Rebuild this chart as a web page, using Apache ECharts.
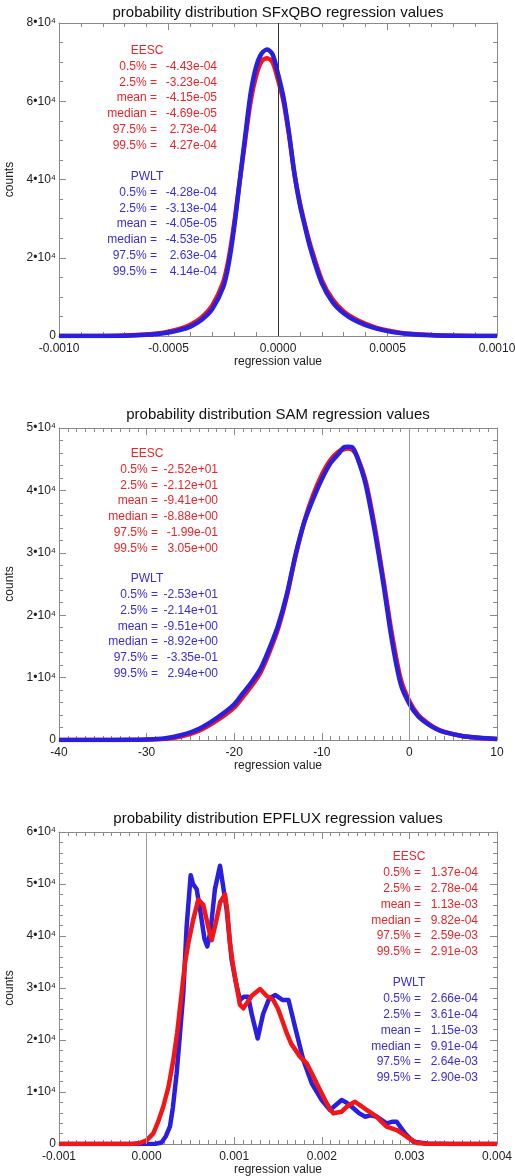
<!DOCTYPE html>
<html>
<head>
<meta charset="utf-8">
<script src="https://cdn.jsdelivr.net/npm/echarts@6/dist/echarts.min.js"></script>
<style>
	html,body{margin:0;padding:0;background:#fff;}
	#chart{width:515px;height:1176px;}
</style>
</head>
<body>
<div id="chart"></div>
<script>
// ---- SFxQBO panel ----
var sfxqboX = [-0.0010,-0.0009,-0.0008,-0.0007,-0.0006,-0.00055,-0.0005,-0.00045,-0.0004,-0.00035,-0.0003,-0.00025,-0.000225,-0.0002,-0.000175,-0.00015,-0.000125,-0.0001,-0.000075,-0.00005,-0.000025,0,0.000025,0.00005,0.000075,0.0001,0.000125,0.00015,0.0002,0.00025,0.0003,0.00035,0.0004,0.00045,0.0005,0.00055,0.0006,0.0007,0.0008,0.0009,0.0010];
var sfxqboEescY = [0,0,30,130,380,650,1100,1800,2900,4700,7800,13800,19800,28800,39500,50000,60000,66500,70200,71000,70000,65500,60000,51500,41500,34000,28000,22800,14300,9300,6300,4400,3100,2100,1400,900,600,250,80,20,0];
var sfxqboPwltY = [0,0,20,90,300,520,900,1500,2400,4100,6900,12500,18500,27800,39500,51000,62000,68800,72200,73200,72000,67000,61000,52000,41500,33500,27500,22000,13500,8600,5800,4000,2800,1900,1250,800,500,200,50,0,0];

// ---- SAM panel ----
var samX = [-40,-36,-32,-30,-28,-26,-24,-22,-20,-19,-18,-17,-16,-15,-14,-13,-12,-11,-10,-9,-8,-7.5,-7,-6.5,-6,-5,-4,-3,-2,-1,0,1,2,3,4,6,8,10];
var samEescY = [0,0,20,60,180,600,1500,3100,5200,6900,8700,10800,14000,17800,23000,29500,35000,39200,42500,44900,46300,46600,46700,46500,45500,41500,34500,26000,17000,9800,6200,4000,2800,1900,1300,650,320,150];
var samPwltY = [0,0,30,80,250,800,1800,3500,5700,7500,9300,11400,14600,18300,23300,29700,34900,38600,41800,44400,46000,46900,47000,46900,45500,41000,33800,25300,16000,9000,5800,3800,2650,1800,1250,650,350,150];

// ---- EPFLUX panel ----
var epfluxEescX = [-0.001,-0.0003,-0.00015,-0.000075,0,0.000077,0.00013,0.00019,0.00025,0.000305,0.00035,0.0004,0.00044,0.000476,0.00053,0.00059,0.000647,0.0007,0.000743,0.00079,0.00084,0.000895,0.00092,0.000952,0.00099,0.001029,0.001065,0.001104,0.00115,0.0012,0.001295,0.00137,0.001446,0.0015,0.00155,0.0016,0.00165,0.001751,0.001827,0.00188,0.001941,0.002037,0.00209,0.002132,0.002227,0.0023,0.002379,0.00245,0.002512,0.002627,0.00268,0.00274,0.002855,0.00292,0.002969,0.003084,0.0032,0.0035,0.004];
var epfluxEescY = [0,0,50,200,700,2050,4200,7170,11000,16150,21500,29000,35000,38600,43000,47000,46000,42000,39200,42500,46500,48000,45000,38600,34000,30250,26800,26100,27200,28500,29800,28500,27700,26000,23700,21300,19300,16800,15500,13800,11670,8460,6800,5900,6210,7400,8130,7300,6540,5250,4300,3330,2690,2000,1400,200,30,0,0];
var epfluxPwltX = [-0.001,0,0.0001,0.00017,0.00022,0.000267,0.0003,0.000343,0.00038,0.000419,0.000457,0.000503,0.00053,0.000572,0.00062,0.00066,0.000693,0.00073,0.00078,0.000838,0.00087,0.000914,0.000971,0.00102,0.001066,0.00111,0.00116,0.0012,0.001268,0.00133,0.0014,0.00147,0.00155,0.00162,0.001694,0.001789,0.001885,0.001999,0.002094,0.00216,0.002227,0.00228,0.002341,0.00242,0.002493,0.00256,0.002627,0.00274,0.00281,0.002855,0.00295,0.003045,0.0032,0.0035,0.004];
var epfluxPwltY = [0,0,50,300,1500,3400,7000,13600,21000,29000,41800,51700,50000,49000,44000,39500,38000,41000,49000,53500,50000,45000,35400,31000,27700,28300,28300,25000,20300,25000,28000,28650,27700,27700,22550,16150,11670,8460,6540,7500,8460,8000,7170,6000,5250,5500,5250,3970,4300,4290,2050,440,100,0,0];

// ---- texts ----
var titles = ['probability distribution SFxQBO regression values', 'probability distribution SAM regression values', 'probability distribution EPFLUX regression values'];
var statLabels = ['0.5% =', '2.5% =', 'mean =', 'median =', '97.5% =', '99.5% ='];
var sfxqboEescStats = ['-4.43e-04', '-3.23e-04', '-4.15e-05', '-4.69e-05', '2.73e-04', '4.27e-04'];
var sfxqboPwltStats = ['-4.28e-04', '-3.13e-04', '-4.05e-05', '-4.53e-05', '2.63e-04', '4.14e-04'];
var samEescStats = ['-2.52e+01', '-2.12e+01', '-9.41e+00', '-8.88e+00', '-1.99e-01', '3.05e+00'];
var samPwltStats = ['-2.53e+01', '-2.14e+01', '-9.51e+00', '-8.92e+00', '-3.35e-01', '2.94e+00'];
var epfluxEescStats = ['1.37e-04', '2.78e-04', '1.13e-03', '9.82e-04', '2.59e-03', '2.91e-03'];
var epfluxPwltStats = ['2.66e-04', '3.61e-04', '1.15e-03', '9.91e-04', '2.64e-03', '2.90e-03'];

var RED = '#f31616';
var BLUE = '#2a1fe0';
var RED_TXT = '#e8262a';
var BLUE_TXT = '#3b2fd4';
var FONT = '"Liberation Sans", Arial, Helvetica, sans-serif';
var BOX = '#8a8a8a';

function pairs(xs, ys) {
	var out = [];
	for (var i = 0; i < xs.length; i++) {
		out.push([xs[i], ys[i]]);
	}
	return out;
}

function xAxes(gi, min, max, interval, minorSplit, digits) {
	var base = {
		gridIndex: gi, type: 'value', min: min, max: max, interval: interval,
		axisLine: {show: true, onZero: false, lineStyle: {color: BOX, width: 1}},
		axisTick: {show: true, inside: true, length: 7, lineStyle: {color: BOX}},
		minorTick: {show: true, splitNumber: minorSplit, length: 4, lineStyle: {color: BOX}},
		splitLine: {show: false}
	};
	var bottom = echarts.util.merge({
		position: 'bottom',
		name: 'regression value', nameLocation: 'middle', nameGap: 20,
		nameTextStyle: {fontFamily: FONT, fontSize: 12, color: '#222'},
		axisLabel: {margin: 7, fontFamily: FONT, fontSize: 12, color: '#222', showMaxLabel: true, showMinLabel: true,
			formatter: function(v){ return v.toFixed(digits); }}
	}, base, true);
	var top = echarts.util.merge({position: 'top', axisLabel: {show: false}}, base, true);
	return [bottom, top];
}

function yAxes(gi, max, interval, minorSplit) {
	var base = {
		gridIndex: gi, type: 'value', min: 0, max: max, interval: interval,
		axisLine: {show: true, onZero: false, lineStyle: {color: BOX, width: 1}},
		axisTick: {show: true, inside: true, length: 7, lineStyle: {color: BOX}},
		minorTick: {show: true, splitNumber: minorSplit, length: 4, lineStyle: {color: BOX}},
		splitLine: {show: false}
	};
	var left = echarts.util.merge({
		position: 'left',
		name: 'counts', nameLocation: 'middle', nameGap: 31,
		nameTextStyle: {fontFamily: FONT, fontSize: 12, color: '#222'},
		axisLabel: {margin: 3, fontFamily: FONT, fontSize: 12, color: '#222',
			formatter: function(v){ return v === 0 ? '0' : (v / 1e4) + '\u202210\u2074'; }}
	}, base, true);
	var right = echarts.util.merge({position: 'right', axisLabel: {show: false}}, base, true);
	return [left, right];
}

function zeroLine(color) {
	return {
		silent: true, symbol: 'none', animation: false,
		label: {show: false},
		lineStyle: {color: color, width: 1, type: 'solid'},
		data: [{xAxis: 0}]
	};
}

function lineSeries(name, xi, yi, data, color, smooth, mark) {
	var s = {
		name: name, type: 'line', xAxisIndex: xi, yAxisIndex: yi,
		data: data, showSymbol: false, symbol: 'none', animation: false,
		smooth: smooth,
		lineStyle: {color: color, width: 4.5, join: 'round'},
		itemStyle: {color: color}
	};
	if (mark) s.markLine = mark;
	return s;
}

function statBlock(cx, labelRight, valueRight, headY, step, head, vals, color) {
	var els = [];
	els.push({type: 'text', x: cx, y: headY, style: {text: head, fill: color, font: '12px ' + FONT, textAlign: 'center', textVerticalAlign: 'middle'}});
	for (var i = 0; i < statLabels.length; i++) {
		var y = headY + step * (i + 1);
		els.push({type: 'text', x: labelRight, y: y, style: {text: statLabels[i], fill: color, font: '12px ' + FONT, textAlign: 'right', textVerticalAlign: 'middle'}});
		els.push({type: 'text', x: valueRight, y: y, style: {text: vals[i], fill: color, font: '12px ' + FONT, textAlign: 'right', textVerticalAlign: 'middle'}});
	}
	return els;
}

function titleText(y, txt) {
	return {type: 'text', x: 278, y: y, style: {text: txt, fill: '#111', font: '15px ' + FONT, textAlign: 'center', textVerticalAlign: 'middle'}};
}

var graphics = [titleText(13, titles[0]), titleText(415, titles[1]), titleText(819, titles[2])];
graphics = graphics.concat(statBlock(147, 157, 217, 51, 15.7, 'EESC', sfxqboEescStats, RED_TXT));
graphics = graphics.concat(statBlock(147, 157, 217, 177, 15.7, 'PWLT', sfxqboPwltStats, BLUE_TXT));
graphics = graphics.concat(statBlock(147, 158, 218, 454, 15.7, 'EESC', samEescStats, RED_TXT));
graphics = graphics.concat(statBlock(147, 158, 218, 579, 15.75, 'PWLT', samPwltStats, BLUE_TXT));
graphics = graphics.concat(statBlock(409, 421, 478, 857, 15.8, 'EESC', epfluxEescStats, RED_TXT));
graphics = graphics.concat(statBlock(409, 421, 478, 983, 15.8, 'PWLT', epfluxPwltStats, BLUE_TXT));

var chart = echarts.init(document.getElementById('chart'), null, {renderer: 'canvas'});
var option = {
	backgroundColor: '#fff',
	animation: false,
	grid: [
		{left: 59, right: 18, top: 23, height: 313, containLabel: false, outerBoundsMode: 'none'},
		{left: 59, right: 18, top: 428, height: 312, containLabel: false, outerBoundsMode: 'none'},
		{left: 59, right: 18, top: 832, height: 312, containLabel: false, outerBoundsMode: 'none'}
	],
	xAxis: [].concat(
		xAxes(0, -0.001, 0.001, 0.0005, 5, 4),
		xAxes(1, -40, 10, 10, 10, 0),
		xAxes(2, -0.001, 0.004, 0.001, 10, 3)
	),
	yAxis: [].concat(
		yAxes(0, 80000, 20000, 4),
		yAxes(1, 50000, 10000, 5),
		yAxes(2, 60000, 10000, 5)
	),
	series: [
		lineSeries('EESC', 0, 0, pairs(sfxqboX, sfxqboEescY), RED, 0.3, zeroLine('#333')),
		lineSeries('PWLT', 0, 0, pairs(sfxqboX, sfxqboPwltY), BLUE, 0.3),
		lineSeries('EESC', 2, 2, pairs(samX, samEescY), RED, 0.25, zeroLine('#999')),
		lineSeries('PWLT', 2, 2, pairs(samX, samPwltY), BLUE, 0.25),
		lineSeries('PWLT', 4, 4, pairs(epfluxPwltX, epfluxPwltY), BLUE, false, zeroLine('#999')),
		lineSeries('EESC', 4, 4, pairs(epfluxEescX, epfluxEescY), RED, false)
	],
	graphic: graphics
};
chart.setOption(option);
</script>
</body>
</html>
